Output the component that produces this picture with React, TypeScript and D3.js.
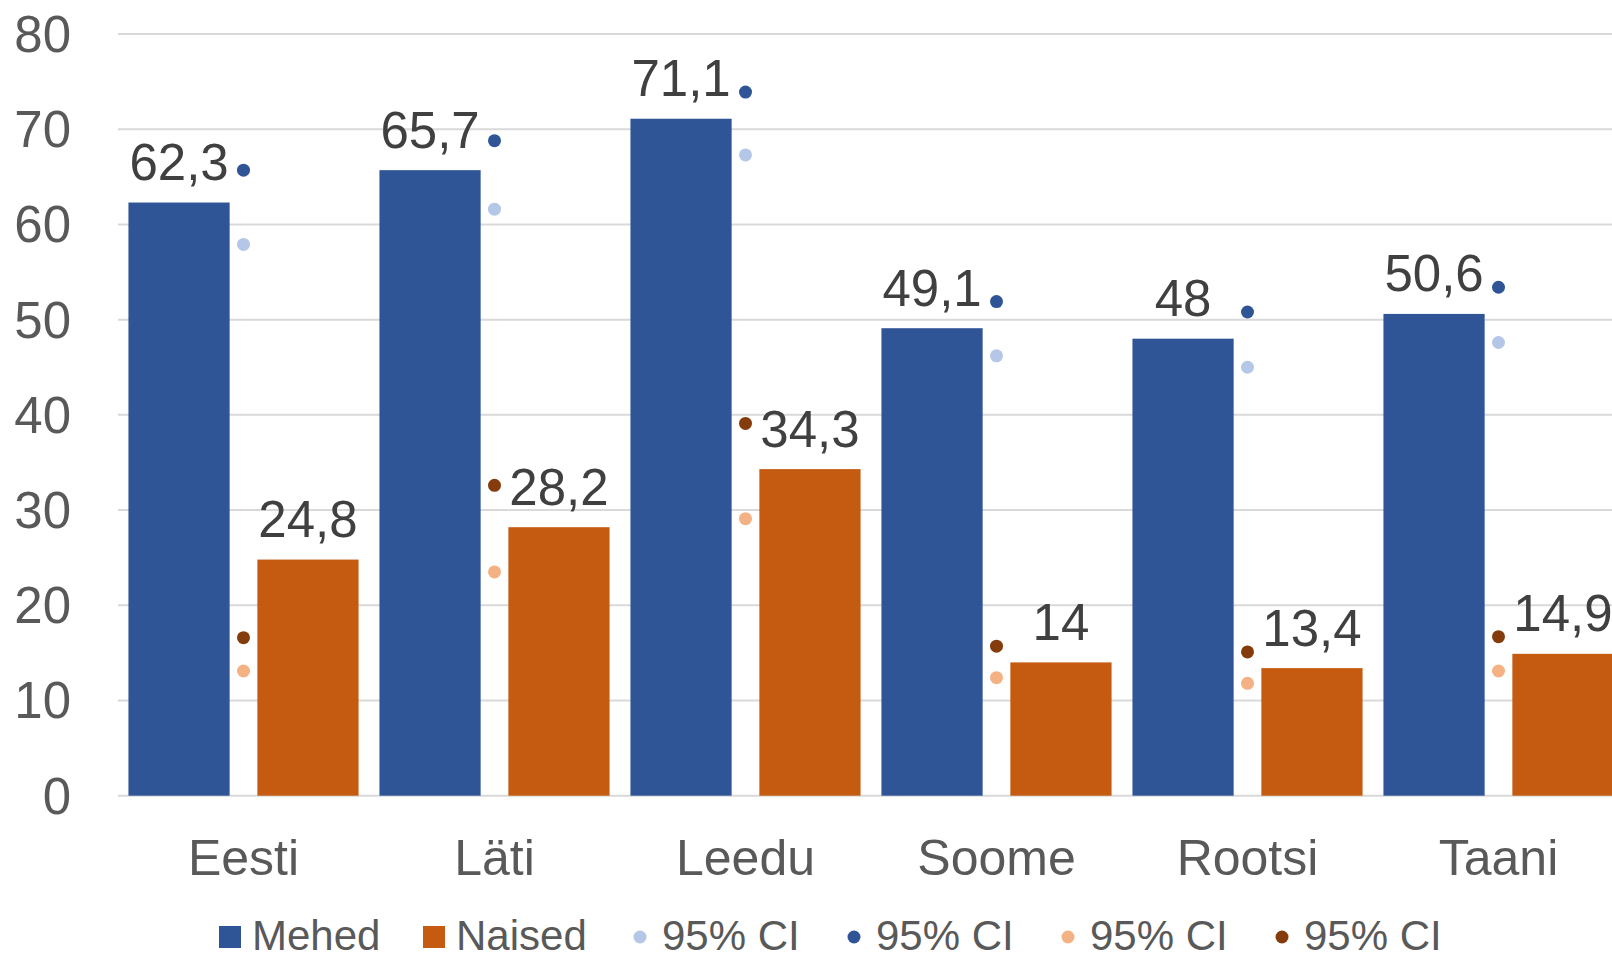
import * as d3 from 'd3';

// Categories and series values
const countries = ['Eesti', 'Läti', 'Leedu', 'Soome', 'Rootsi', 'Taani'];
const mehed = [62.3, 65.7, 71.1, 49.1, 48, 50.6];
const naised = [24.8, 28.2, 34.3, 14, 13.4, 14.9];
// 95% CI end points
const mehedLow = [57.9, 61.6, 67.3, 46.2, 45.0, 47.6];
const mehedHigh = [65.7, 68.8, 73.9, 51.9, 50.8, 53.4];
const naisedLow = [13.1, 23.5, 29.1, 12.4, 11.8, 13.1];
const naisedHigh = [16.6, 32.6, 39.1, 15.7, 15.1, 16.7];
const yTicks = [0, 10, 20, 30, 40, 50, 60, 70, 80];

const W = 1612;
const H = 955;
const FONT = '"Liberation Sans", Arial, sans-serif';

const C_MEHED = '#2F5597';
const C_NAISED = '#C55A11';
const C_MLOW = '#B4C7E7';
const C_MHIGH = '#2F5597';
const C_NLOW = '#F4B183';
const C_NHIGH = '#843C0C';

const fmt = (v: number) => String(v).replace('.', ',');

export default function App() {
  const x = d3.scaleBand<string>().domain(countries).range([118, 1624]).padding(0);
  const xs = d3
    .scaleBand<string>()
    .domain(['Mehed', 'Naised'])
    .range([0, x.bandwidth()])
    .paddingInner(0.215)
    .paddingOuter(0.081);
  const y = d3.scaleLinear().domain([0, 80]).range([795.7, 34]);

  const bars = countries.flatMap((c, i) => [
    { c, s: 'Mehed', v: mehed[i], fill: C_MEHED },
    { c, s: 'Naised', v: naised[i], fill: C_NAISED },
  ]);

  const dots = countries.flatMap((c, i) => [
    { c, v: mehedLow[i], fill: C_MLOW },
    { c, v: mehedHigh[i], fill: C_MHIGH },
    { c, v: naisedLow[i], fill: C_NLOW },
    { c, v: naisedHigh[i], fill: C_NHIGH },
  ]);

  const legend = [
    { label: 'Mehed', color: C_MEHED, kind: 'rect', x: 219 },
    { label: 'Naised', color: C_NAISED, kind: 'rect', x: 423 },
    { label: '95% CI', color: C_MLOW, kind: 'dot', x: 633 },
    { label: '95% CI', color: C_MHIGH, kind: 'dot', x: 847 },
    { label: '95% CI', color: C_NLOW, kind: 'dot', x: 1061 },
    { label: '95% CI', color: C_NHIGH, kind: 'dot', x: 1275 },
  ];

  return (
    <svg
      width={W}
      height={H}
      style={{ position: 'absolute', left: 0, top: 0, background: '#fff', fontFamily: FONT }}
    >
      {/* gridlines */}
      {yTicks.map(t => (
        <line key={t} x1={118} x2={W} y1={y(t)} y2={y(t)} stroke="#D9D9D9" strokeWidth={2} />
      ))}
      {/* y tick labels */}
      {yTicks.map(t => (
        <text key={'t' + t} x={71} y={y(t) + 18} textAnchor="end" fontSize={51} fill="#595959">
          {t}
        </text>
      ))}
      {/* bars */}
      {bars.map(b => (
        <rect
          key={b.c + b.s}
          x={(x(b.c) ?? 0) + (xs(b.s) ?? 0)}
          y={y(b.v)}
          width={xs.bandwidth()}
          height={y(0) - y(b.v)}
          fill={b.fill}
        />
      ))}
      {/* CI dots */}
      {dots.map((d, i) => (
        <circle key={i} cx={(x(d.c) ?? 0) + x.bandwidth() / 2} cy={y(d.v)} r={6.5} fill={d.fill} />
      ))}
      {/* value labels */}
      {bars.map(b => (
        <text
          key={'l' + b.c + b.s}
          x={(x(b.c) ?? 0) + (xs(b.s) ?? 0) + xs.bandwidth() / 2}
          y={y(b.v) - 22.5}
          textAnchor="middle"
          fontSize={51}
          fill="#404040"
        >
          {fmt(b.v)}
        </text>
      ))}
      {/* category labels */}
      {countries.map(c => (
        <text
          key={'c' + c}
          x={(x(c) ?? 0) + x.bandwidth() / 2}
          y={875}
          textAnchor="middle"
          fontSize={50}
          fill="#595959"
        >
          {c}
        </text>
      ))}
      {/* legend */}
      {legend.map((l, i) => (
        <g key={'lg' + i}>
          {l.kind === 'rect' ? (
            <rect x={l.x} y={926} width={22} height={22} fill={l.color} />
          ) : (
            <circle cx={l.x + 7} cy={937} r={6.5} fill={l.color} />
          )}
          <text x={l.kind === 'rect' ? l.x + 33 : l.x + 29} y={950} fontSize={42} fill="#595959">
            {l.label}
          </text>
        </g>
      ))}
    </svg>
  );
}
